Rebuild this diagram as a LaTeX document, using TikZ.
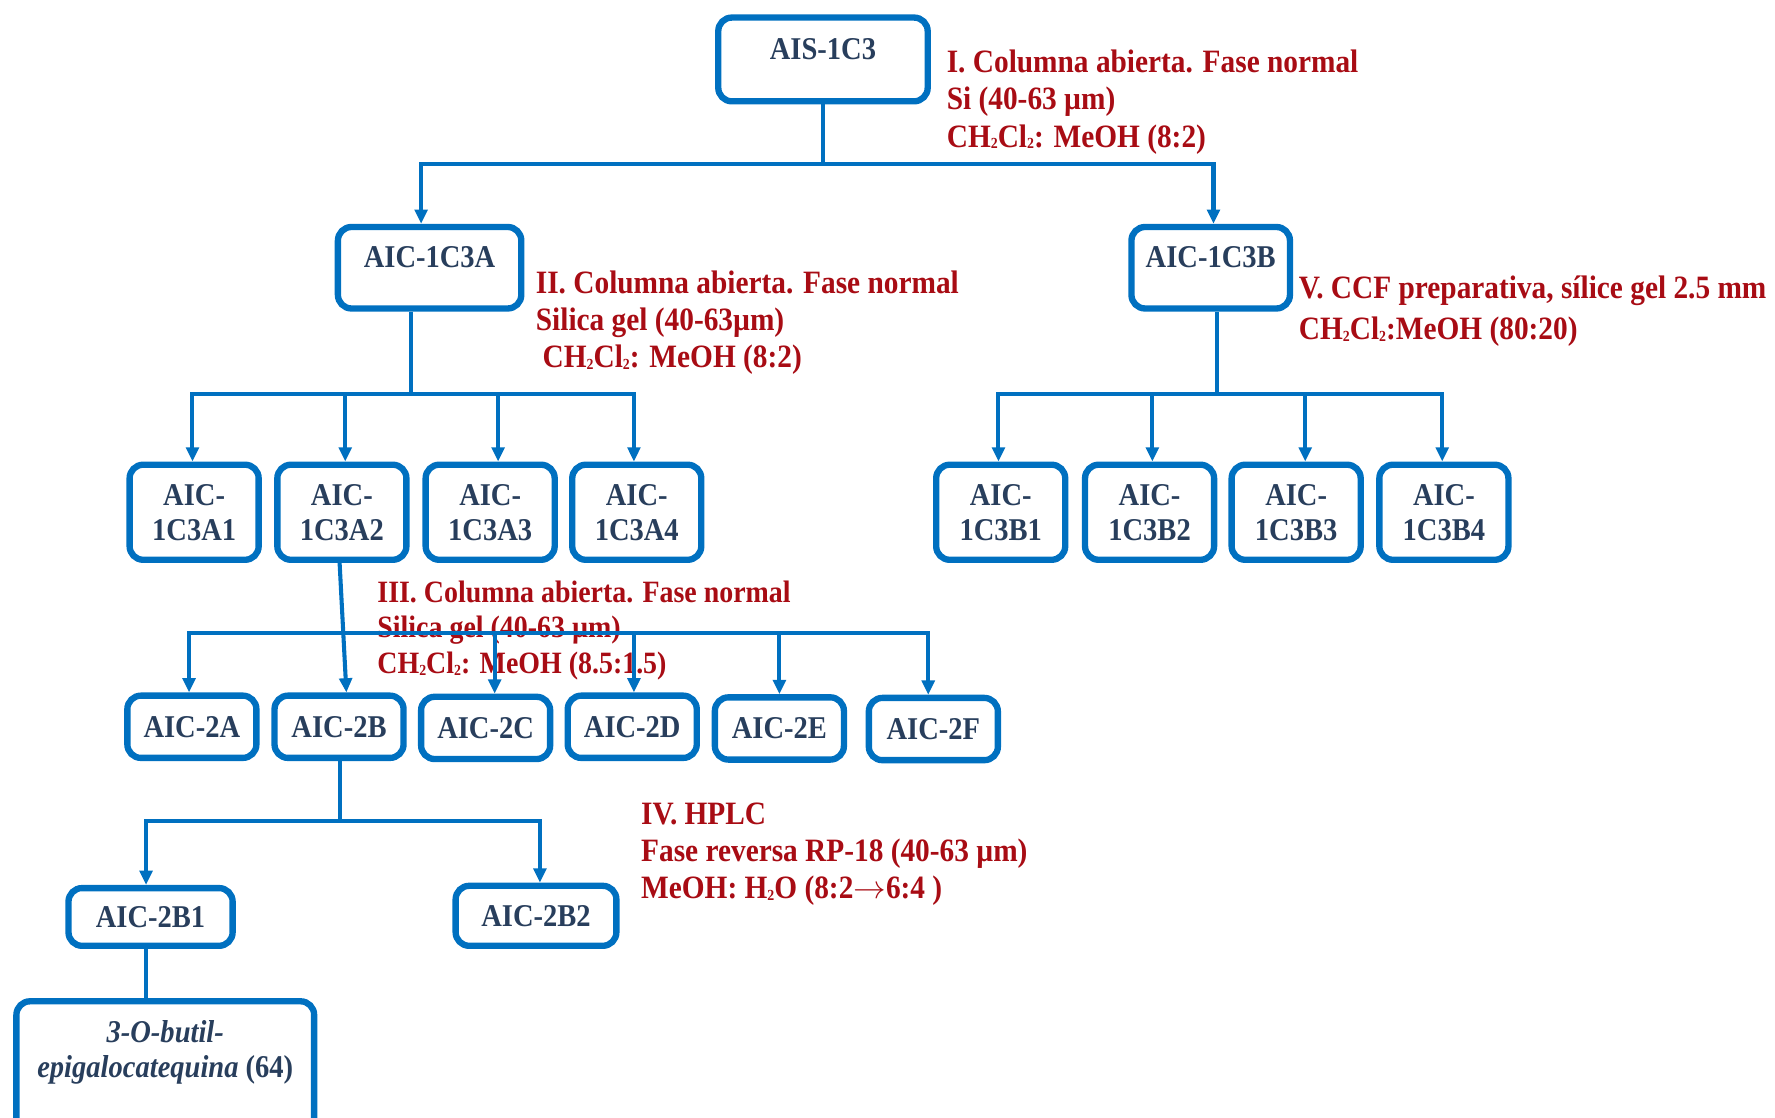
\documentclass[tikz,border=0pt]{standalone}
\usepackage{fontspec}
\setmainfont{Liberation Serif}[FakeStretch=0.9]
\usetikzlibrary{arrows.meta}
\definecolor{boxblue}{RGB}{0,112,192}
\definecolor{boxtext}{RGB}{40,62,92}
\definecolor{stepred}{RGB}{168,12,20}
% small, low subscript digit used in the formulas
\newcommand\lowsub[1]{\raisebox{-0.8pt}{\fontsize{6.8}{7}\selectfont #1}}

\begin{document}
\begin{tikzpicture}[x=0.5pt,y=-0.5pt,
  box/.style={draw=boxblue, line width=2.8pt, rounded corners=6pt, text=boxtext,
    font=\fontsize{14}{15.5}\selectfont\bfseries, align=center, inner sep=0pt},
  topbox/.style={box, text height=0pt, text depth=0pt},
  conn/.style={draw=boxblue, line width=1.8pt},
  arr/.style={conn, -{Triangle[length=6.3pt,width=5.6pt]}},
  note/.style={text=stepred, font=\fontsize{14.4}{#1}\selectfont\bfseries,
    align=left, anchor=north west, inner sep=0pt},
  note/.default=16.5pt,
]
\useasboundingbox (0,0) rectangle (1568,987);
\clip (0,0) rectangle (1568,987);

% separation conditions
\node[note] (n1) at (836,40.4) {\strut I. Columna abierta. Fase normal\\
  Si (40-63 µm)\\ CH\lowsub{2}Cl\lowsub{2}: MeOH (8:2)};
\node[note] (n2) at (473,235.4) {\strut II. Columna abierta. Fase normal\\
  Silica gel (40-63µm)\\ \hspace*{3pt}CH\lowsub{2}Cl\lowsub{2}: MeOH (8:2)};
\node[note, font=\fontsize{13.7}{15.75}\selectfont\bfseries] (n3) at (333,509.5)
  {\strut III. Columna abierta. Fase normal\\
  Silica gel (40-63 µm)\\ CH\lowsub{2}Cl\lowsub{2}: MeOH (8.5:1.5)};
\node[note] (n4) at (566,704.4) {\strut IV. HPLC\\
  Fase reversa RP-18 (40-63 µm)\\ MeOH: H\lowsub{2}O (8:2$\rightarrow$6:4 )};
\node[note=18pt] (n5) at (1147,238.3) {\strut V. CCF preparativa, sílice gel 2.5 mm\\
  CH\lowsub{2}Cl\lowsub{2}:MeOH (80:20)};

% fractions
\node[topbox, minimum width=92.5pt, minimum height=37pt] (ais) at (727,52.5) {AIS-1C3};
\node[topbox, minimum width=81pt, minimum height=36pt] (c3a) at (379.5,236.5) {AIC-1C3A};
\node[topbox, minimum width=70pt, minimum height=36pt] (c3b) at (1069.5,236.5) {AIC-1C3B};

\begin{scope}[every node/.style={box, minimum width=57pt, minimum height=42pt}]
\node (a1) at (171.5,452.5) {AIC-\\1C3A1};
\node (a2) at (302,452.5) {AIC-\\1C3A2};
\node (a3) at (433,452.5) {AIC-\\1C3A3};
\node (a4) at (562.5,452.5) {AIC-\\1C3A4};
\node (b1) at (884,452.5) {AIC-\\1C3B1};
\node (b2) at (1015.5,452.5) {AIC-\\1C3B2};
\node (b3) at (1145,452.5) {AIC-\\1C3B3};
\node (b4) at (1275.5,452.5) {AIC-\\1C3B4};
\end{scope}

\begin{scope}[every node/.style={box, minimum width=57pt, minimum height=27.5pt}]
\node (r2a) at (169.5,642) {AIC-2A};
\node (r2b) at (299.5,642) {AIC-2B};
\node (r2c) at (429,643) {AIC-2C};
\node (r2d) at (558.5,642) {AIC-2D};
\node (r2e) at (688.5,643.5) {AIC-2E};
\node (r2f) at (824.5,644) {AIC-2F};
\end{scope}

\node[box, minimum width=72.5pt, minimum height=25.5pt] (b21) at (133,810) {AIC-2B1};
\node[box, minimum width=71pt, minimum height=26.5pt] (b22) at (473.5,809) {AIC-2B2};
\node[box, minimum width=131.5pt, minimum height=62.5pt] (fin) at (146,947) {};
\node[text=boxtext, font=\fontsize{14}{15.5}\selectfont\bfseries, align=center, inner sep=0pt]
  (fintxt) at (146,930) {\textit{3-O-butil-}\\\textit{epigalocatequina} (64)};

% branch points
\coordinate (j1) at (727,145);
\coordinate (j2) at (363,348);
\coordinate (j5) at (1075,348);
\coordinate (j3) at (303,559);
\coordinate (j4) at (300,725);

% first column
\draw[conn] (ais) -- (j1);
\draw[arr] (j1) -| ([xshift=-3.75pt]c3a.north);
\draw[arr] (j1) -| ([xshift=1.25pt]c3b.north);

% AIC-1C3A
\draw[conn] (c3a.south -| j2) -- (j2);
\draw[arr] (j2) -| ([xshift=-0.75pt]a1.north);
\draw[arr] (j2) -| ([xshift=1.5pt]a2.north);
\draw[arr] (j2) -| ([xshift=3.5pt]a3.north);
\draw[arr] (j2) -| ([xshift=-1.25pt]a4.north);

% AIC-1C3B
\draw[conn] (c3b.south -| j5) -- (j5);
\draw[arr] (j5) -| ([xshift=-1pt]b1.north);
\draw[arr] (j5) -| ([xshift=1.25pt]b2.north);
\draw[arr] (j5) -| ([xshift=4pt]b3.north);
\draw[arr] (j5) -| ([xshift=-0.75pt]b4.north);

% AIC-1C3A2
\draw[arr] ([xshift=-1pt]a2.south) -- ([xshift=3.25pt]r2b.north);
\draw[arr] (j3) -| ([xshift=-1.25pt]r2a.north);
\draw[arr] (j3) -| ([xshift=4pt]r2c.north);
\draw[arr] (j3) -| ([xshift=0.75pt]r2d.north);
\draw[arr] (j3) -| (r2e.north);
\draw[arr] (j3) -| ([xshift=-2.25pt]r2f.north);

% AIC-2B
\draw[conn] (r2b.south -| j4) -- (j4);
\draw[arr] (j4) -| ([xshift=-2pt]b21.north);
\draw[arr] (j4) -| ([xshift=1.75pt]b22.north);
\draw[conn] ([xshift=-2pt]b21.south) -- ([xshift=-2pt]b21.south |- fin.north);
\end{tikzpicture}
\end{document}
